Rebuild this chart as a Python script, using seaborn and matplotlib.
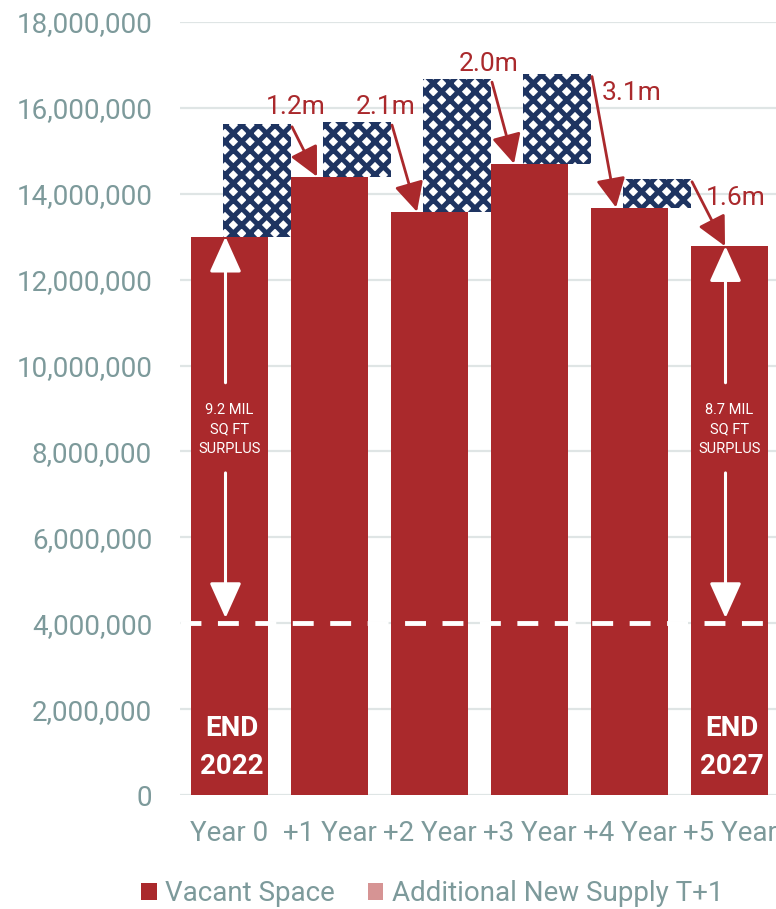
import numpy as np
import pandas as pd
import matplotlib
matplotlib.use("Agg")
import matplotlib.pyplot as plt
import seaborn as sns
from matplotlib.patches import Patch

# ---------------- data ----------------
categories = ["Year 0", "+1 Year", "+2 Year", "+3 Year", "+4 Year", "+5 Year"]
vacant = [13.0e6, 14.4e6, 13.58e6, 14.7e6, 13.68e6, 12.78e6]
new_supply = [2.63e6, 1.27e6, 3.09e6, 2.10e6, 0.67e6]      # additional new supply T+1
change_labels = ["1.2m", "2.1m", "2.0m", "3.1m", "1.6m"]
equilibrium = 4.0e6
surplus_labels = ["9.2 MIL\nSQ FT\nSURPLUS", "8.7 MIL\nSQ FT\nSURPLUS"]
end_labels = [("END", "2022"), ("END", "2027")]
yticks = list(range(0, 18_000_001, 2_000_000))
legend_labels = ["Vacant Space", "Additional New Supply T+1"]

# ---------------- style ----------------
RED = "#aa292c"
NAVY = "#1e3461"
PINK = "#d69494"
GREY_TXT = "#7d9a9b"
GRID = "#dfe5e5"

sns.set_theme(style="white")
plt.rcParams["font.family"] = ["Roboto", "DejaVu Sans"]
plt.rcParams["hatch.linewidth"] = 3.6

fig = plt.figure(figsize=(7.76, 9.09), dpi=100)
ax = fig.add_axes([180 / 776, 114 / 909, 596 / 776, 773 / 909])

pos = np.arange(len(categories), dtype=float)
df_v = pd.DataFrame({"pos": pos, "value": vacant})
sns.barplot(data=df_v, x="pos", y="value", native_scale=True, color=RED,
            saturation=1, width=0.77, linewidth=0, ax=ax, zorder=3)

SHIFT = 0.275
df_s = pd.DataFrame({"pos": pos[:len(new_supply)] + SHIFT,
                     "value": new_supply,
                     "base": vacant[:len(new_supply)]})
sns.barplot(data=df_s, x="pos", y="value", native_scale=True, color="white",
            saturation=1, width=0.68, linewidth=0, ax=ax, zorder=2,
            bottom=df_s["base"].to_numpy())
for p in ax.containers[1]:
    p.set_facecolor("white")
    p.set_edgecolor(NAVY)
    p.set_linewidth(0)
    p.set_hatch("xx")

# grid / axes
ax.set_xlim(-0.495, 5.465)
ax.set_ylim(0, 18e6)
ax.set_yticks(yticks)
ax.set_yticklabels([f"{v:,}" for v in yticks])
ax.set_xticks(pos)
ax.set_xticklabels(categories)
ax.set_xlabel("")
ax.set_ylabel("")
ax.yaxis.grid(True, color=GRID, lw=1.6)
ax.xaxis.grid(False)
ax.set_axisbelow(True)
for s in ax.spines.values():
    s.set_visible(False)
ax.tick_params(axis="y", length=0, pad=20, labelsize=20, labelcolor=GREY_TXT)
ax.tick_params(axis="x", length=0, pad=18, labelsize=20, labelcolor=GREY_TXT)

# equilibrium dashed line
ax.axhline(equilibrium, color="white", lw=3.5, dashes=(4.3, 3.4), zorder=4)

# red change arrows + labels
n = len(change_labels)
end_dx = [-0.125, -0.125, -0.155, -0.135, -0.045]
text_off = [(0.04, 0.47e6), (-0.06, 0.42e6), (-0.03, 0.42e6), (0.40, -0.38e6), (0.44, -0.38e6)]
for i in range(n):
    top = vacant[i] + new_supply[i]
    sx = i + SHIFT + 0.34 + 0.01
    sy = top - 0.07e6
    ex = i + 1 + end_dx[i]
    ey = vacant[i + 1]
    ax.annotate("", xy=(ex, ey), xytext=(sx, sy),
                arrowprops=dict(arrowstyle="-|>,head_length=0.9,head_width=0.45",
                                color=RED, lw=2.0, shrinkA=0, shrinkB=0,
                                mutation_scale=20), zorder=6)
    ax.text(sx + text_off[i][0], sy + text_off[i][1], change_labels[i],
            color=RED, fontsize=19, ha="center", va="center", zorder=6)

# white surplus arrows and END labels
for k, bi in enumerate([0, len(categories) - 1]):
    ax_x = bi - 0.04
    ax.annotate("", xy=(ax_x, vacant[bi]), xytext=(ax_x, 9.6e6),
                arrowprops=dict(arrowstyle="-|>,head_length=1.0,head_width=0.45",
                                color="white", lw=2.2, shrinkA=0, shrinkB=0,
                                mutation_scale=22), zorder=5)
    ax.annotate("", xy=(ax_x, 4.12e6), xytext=(ax_x, 7.5e6),
                arrowprops=dict(arrowstyle="-|>,head_length=1.0,head_width=0.45",
                                color="white", lw=2.2, shrinkA=0, shrinkB=0,
                                mutation_scale=22), zorder=5)
    ax.text(bi, 8.52e6, surplus_labels[k], color="white", fontsize=10.5,
            ha="center", va="center", linespacing=1.5, zorder=6)
    ax.text(bi + 0.02, 1.56e6, end_labels[k][0], color="white", fontsize=20,
            fontweight="bold", ha="center", va="center", zorder=6)
    ax.text(bi + 0.02, 0.675e6, end_labels[k][1], color="white", fontsize=20,
            fontweight="bold", ha="center", va="center", zorder=6)

# legend
handles = [Patch(facecolor=RED, edgecolor="none"), Patch(facecolor=PINK, edgecolor="none")]
leg = fig.legend(handles, legend_labels, loc="center", bbox_to_anchor=(0.557, 0.017),
                 ncol=2, frameon=False, fontsize=20, handlelength=0.55, handleheight=0.55,
                 handletextpad=0.3, columnspacing=1.2)
for t in leg.get_texts():
    t.set_color(GREY_TXT)

fig.savefig("out.png", dpi=100)
